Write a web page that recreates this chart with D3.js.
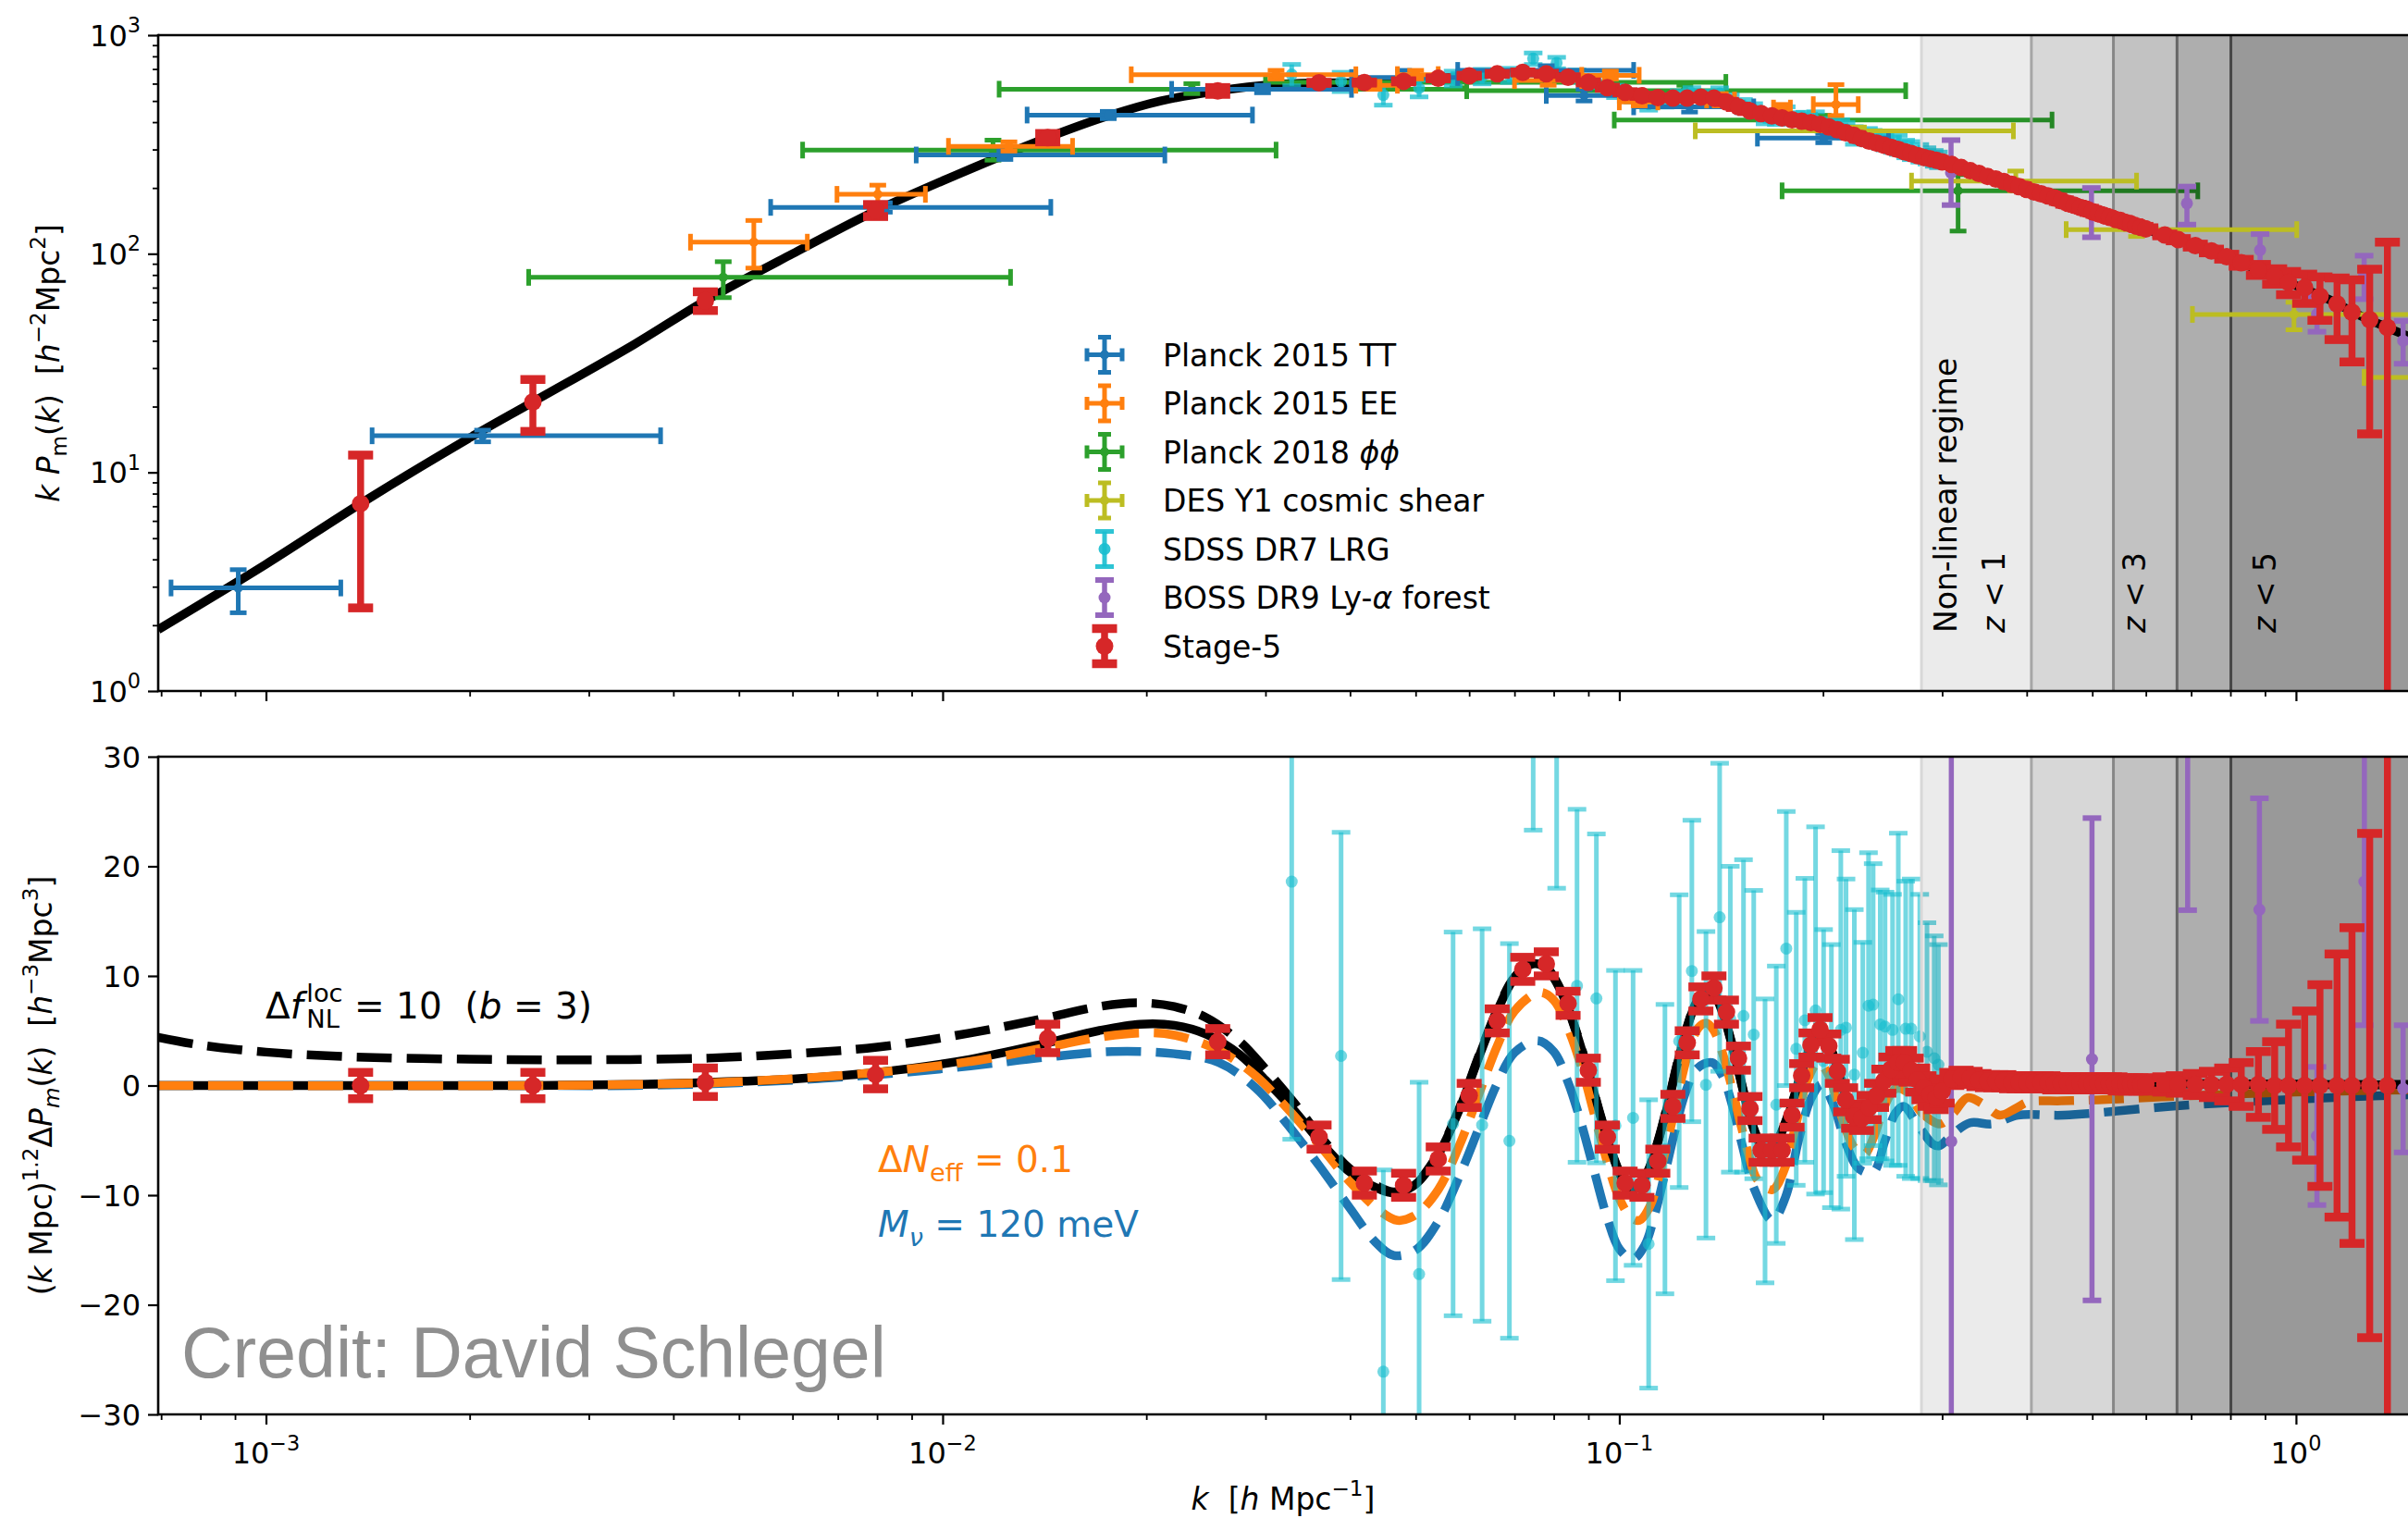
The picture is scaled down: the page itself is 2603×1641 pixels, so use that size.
<!DOCTYPE html>
<html>
<head>
<meta charset="utf-8">
<script src="https://cdn.jsdelivr.net/npm/d3@7"></script>
<style>
  html, body { margin: 0; padding: 0; background: #fff; }
  svg { display: block; font-family: 'DejaVu Sans', sans-serif; }
</style>
</head>
<body>
<svg id="fig" width="2603" height="1641"></svg>
<script>
// ---------------------------------------------------------------
// Data (k in h/Mpc)
// ---------------------------------------------------------------

// Linear matter power spectrum, k P(k)  [k, kP]
const pkCurve = [
  [0.000693, 1.91], [0.001, 3.8], [0.00138, 7.2], [0.002, 14.4], [0.00248, 21.0], [0.0035, 38.5],
  [0.00446, 61], [0.006, 100], [0.00796, 157], [0.0105, 230], [0.0143, 340], [0.0176, 428],
  [0.021, 500], [0.0255, 556], [0.031, 595], [0.036, 605], [0.042, 607], [0.048, 615], [0.054, 635],
  [0.060, 652], [0.066, 665], [0.072, 675], [0.078, 665], [0.084, 642], [0.090, 608], [0.096, 575],
  [0.102, 548], [0.108, 528], [0.114, 518], [0.120, 515], [0.126, 515], [0.132, 520], [0.138, 515],
  [0.144, 495], [0.150, 470], [0.156, 450], [0.162, 438], [0.168, 427], [0.174, 418], [0.180, 410],
  [0.190, 400], [0.200, 388], [0.215, 360], [0.234, 328], [0.254, 305], [0.283, 276], [0.308, 259],
  [0.357, 222], [0.405, 194], [0.460, 170], [0.522, 149], [0.593, 131], [0.673, 115], [0.763, 101],
  [0.867, 86], [0.984, 73], [1.116, 62], [1.23, 53], [1.364, 46], [1.464, 42]
];

// Planck 2015 TT  [k, kP, kLo, kHi, kPLo, kPHi]
const planckTT = [
  [0.00091, 2.96, 0.000724, 0.00129, 2.28, 3.59],
  [0.00209, 14.7, 0.001435, 0.00383, 13.8, 15.6],
  [0.0082, 163, 0.00557, 0.01445, 155, 171],
  [0.01236, 283, 0.00914, 0.0213, 270, 297],
  [0.01757, 431, 0.01333, 0.0287, 415, 448],
  [0.0297, 565, 0.0218, 0.0402, 545, 590],
  [0.0480, 640, 0.0402, 0.0577, 600, 690],
  [0.0780, 690, 0.0577, 0.1050, 655, 725],
  [0.0887, 530, 0.0780, 0.1000, 500, 565],
  [0.1270, 470, 0.1050, 0.1580, 445, 500],
  [0.2005, 338, 0.1600, 0.2500, 322, 355]
];

// Planck 2015 EE
const planckEE = [
  [0.00526, 113, 0.00424, 0.00631, 86, 142],
  [0.00802, 187, 0.00698, 0.00943, 170, 206],
  [0.01253, 310, 0.0102, 0.01556, 295, 325],
  [0.0311, 659, 0.0190, 0.0408, 630, 690],
  [0.0434, 590, 0.0408, 0.0470, 565, 615],
  [0.0500, 660, 0.0470, 0.0540, 630, 690],
  [0.0785, 620, 0.0700, 0.0880, 590, 650],
  [0.0970, 655, 0.0880, 0.1070, 630, 685],
  [0.1070, 495, 0.1000, 0.1140, 475, 515],
  [0.1410, 505, 0.1346, 0.1480, 475, 540],
  [0.1740, 464, 0.1690, 0.1790, 448, 482],
  [0.2090, 481, 0.1935, 0.2255, 429, 594]
];

// Planck 2018 lensing (phi phi)
const planckPP = [
  [0.00474, 78, 0.002445, 0.0126, 63, 92],
  [0.01187, 298, 0.00621, 0.0311, 268, 331],
  [0.02335, 566, 0.01212, 0.0595, 540, 600],
  [0.1250, 557, 0.0595, 0.265, 525, 590],
  [0.0577, 608, 0.030, 0.1437, 575, 645],
  [0.2000, 409, 0.0983, 0.436, 390, 430],
  [0.3167, 194, 0.174, 0.716, 127, 230]
];

// DES Y1 cosmic shear
const desY1 = [
  [0.2256, 365, 0.1295, 0.3823, 352, 380],
  [0.3854, 215, 0.2703, 0.5813, 194, 239],
  [0.5813, 129, 0.4575, 1.0026, 120, 140],
  [0.9932, 52.8, 0.703, 1.6, 44.9, 60],
  [1.60, 27.2, 1.261, 2.0, 24, 31]
];

// SDSS DR7 LRG, upper panel  [k, kP, err]
const sdssTop = [
  [0.0328, 660.6, 74], [0.0388, 614.2, 62.1], [0.0448, 532.8, 54.4], [0.0506, 572.4, 50.5],
  [0.0568, 635.1, 49.4], [0.0627, 648.0, 49.5], [0.0688, 656.3, 48.9], [0.0746, 781.5, 47.3],
  [0.0808, 747.0, 44.7], [0.0866, 651.6, 41.7], [0.0925, 615.3, 38.4], [0.0987, 553.8, 35.7],
  [0.1048, 527.6, 33.6], [0.1105, 486.3, 32.5], [0.1168, 500.8, 32.2], [0.1226, 524.8, 32.3],
  [0.128, 542.1, 33.0], [0.1343, 522.2, 33.2], [0.1407, 541.1, 33.0], [0.1459, 502.1, 32.6],
  [0.1526, 474.7, 33.0], [0.158, 455.7, 30.2], [0.1642, 422.5, 29.5], [0.1706, 419.0, 28.6],
  [0.1765, 442.1, 28.1], [0.1826, 414.5, 27.8], [0.188, 415.2, 28.7], [0.195, 409.1, 36.9],
  [0.2004, 389.9, 26.3], [0.2058, 377.9, 26.2], [0.2125, 375.0, 35.4], [0.2163, 368.4, 29.3],
  [0.2225, 349.1, 32.3], [0.229, 342.4, 21.5], [0.2335, 344.5, 29.7], [0.2372, 339.6, 27.2],
  [0.243, 329.8, 25.9], [0.247, 324.3, 25.8], [0.2534, 316.6, 25.8], [0.2584, 316.4, 31.6],
  [0.265, 302.7, 27.9], [0.270, 297.7, 28.2], [0.278, 289.2, 26.6], [0.2849, 281.3, 24.0],
  [0.292, 274.1, 22.7], [0.2962, 269.8, 22.2]
];

// SDSS DR7 LRG, lower panel  [k, residual, err]
const sdssBot = [
  [0.0328, 18.6, 23.5], [0.0388, 2.7, 20.4], [0.0448, -26.1, 18.4], [0.0506, -17.2, 17.5],
  [0.0568, -3.5, 17.5], [0.0627, -3.6, 17.9], [0.0688, -5.05, 18.0], [0.0746, 41.0, 17.7],
  [0.0808, 35.0, 17.0], [0.0866, 9.1, 16.1], [0.0925, 7.95, 15.0], [0.0987, -3.65, 14.15],
  [0.1048, -2.95, 13.45], [0.1105, -14.45, 13.15], [0.1168, -5.8, 13.2], [0.1226, 4.05, 13.35],
  [0.128, 10.45, 13.75], [0.1343, 0.07, 13.98], [0.1407, 15.35, 14.05], [0.1459, 6.05, 13.95],
  [0.1526, 6.35, 14.25], [0.158, 4.65, 13.15], [0.1642, -5.05, 12.95], [0.1706, -1.75, 12.65],
  [0.1765, 12.5, 12.5], [0.1826, 3.35, 12.45], [0.188, 5.95, 12.95], [0.195, 6.85, 16.75],
  [0.2004, 2.23, 12.0], [0.2058, 0.86, 12.0], [0.2125, 5.08, 16.35], [0.2163, 5.28, 13.56],
  [0.2225, 1.0, 15.05], [0.229, 2.99, 10.07], [0.2335, 7.28, 13.96], [0.2372, 7.38, 12.86],
  [0.243, 5.58, 12.26], [0.247, 5.38, 12.26], [0.2534, 5.08, 12.36], [0.2584, 7.87, 15.15],
  [0.265, 5.18, 13.46], [0.270, 5.18, 13.66], [0.278, 4.48, 12.96], [0.2849, 3.09, 11.76],
  [0.292, 2.49, 11.16], [0.2962, 1.9, 10.96]
];

// BOSS DR9 Ly-alpha forest, upper panel  [k, kP, kPLo, kPHi]
const bossTop = [
  [0.3092, 235, 167, 331], [0.4986, 155, 119, 200], [0.690, 170, 136, 203],
  [0.885, 104, 83, 123], [1.074, 53, 44, 64], [1.261, 80, 62, 98], [1.44, 40, 31.4, 49.3]
];
// BOSS DR9 Ly-alpha forest, lower panel  [k, residual, err]
const bossBot = [
  [0.3095, -5.1, 40], [0.4995, 2.4, 22], [0.6917, 38, 22], [0.883, 16.05, 10.15],
  [1.074, -4.6, 6.3], [1.262, 18.6, 13.1], [1.44, -0.3, 5.8]
];

// Stage-5 forecast  [k, kP, kPErr, residual, residualErr]
const stage5 = [
  [0.00138, 7.2, 4.8, 0.0, 1.2], [0.00248, 21, 5.6, 0.0, 1.2], [0.00446, 61, 6, 0.3, 1.3],
  [0.00796, 158, 10, 1.0, 1.3], [0.0143, 340, 15, 4.3, 1.3], [0.0255, 556, 20, 4.0, 1.2],
  [0.036, 605, 3.5, -4.7, 1.1], [0.042, 607, 3.5, -8.9, 1.1], [0.048, 615, 3.5, -9.1, 1.1],
  [0.054, 635, 3.5, -6.7, 1.1], [0.060, 652, 3.5, -0.9, 1.1], [0.066, 665, 3.5, 5.9, 1.1],
  [0.072, 675, 3.5, 10.6, 1.1], [0.078, 665, 3.5, 11.1, 1.1], [0.084, 642, 3.5, 7.5, 1.1],
  [0.090, 608, 3.5, 1.4, 1.1], [0.096, 575, 3.2, -4.7, 1.1], [0.102, 548, 3.2, -8.9, 1.1],
  [0.108, 528, 3.2, -9.1, 1.1], [0.114, 518, 3.2, -6.9, 1.1], [0.120, 515, 3.2, -1.9, 1.1],
  [0.126, 515, 3.2, 3.9, 1.1], [0.132, 520, 3.2, 7.9, 1.1], [0.138, 515, 3.2, 8.9, 1.1],
  [0.144, 495, 3.2, 6.7, 1.1], [0.150, 470, 3.2, 2.5, 1.1], [0.156, 450, 3.0, -2.1, 1.1],
  [0.162, 438, 3.0, -5.9, 1.1], [0.168, 427, 3.0, -5.9, 1.1], [0.174, 418, 3.0, -5.9, 1.1],
  [0.180, 410, 3.0, -2.7, 1.1], [0.186, 404, 3.0, 0.9, 1.1], [0.192, 398, 3.0, 3.7, 1.1],
  [0.198, 391, 3.0, 5.1, 1.1], [0.204, 380, 3.0, 3.6, 1.1], [0.210, 369, 3.0, 1.3, 1.1],
  [0.216, 358, 2.8, -1.3, 1.1], [0.222, 348, 2.8, -2.8, 1.1], [0.228, 337, 2.8, -3.0, 1.1],
  [0.234, 328, 2.8, -2.0, 1.1], [0.240, 321, 2.8, -0.9, 1.1], [0.246, 314, 2.8, 0.4, 1.1],
  [0.252, 307, 2.8, 1.5, 1.1], [0.258, 300, 2.8, 2.1, 1.1], [0.264, 293, 2.8, 2.1, 1.1],
  [0.270, 287, 2.8, 1.4, 1.1], [0.276, 281, 2.5, 0.5, 1.1], [0.282, 276, 2.5, -0.2, 1.1],
  [0.288, 272, 2.5, -0.8, 1.1], [0.294, 268, 2.5, -1.1, 1.1], [0.300, 263, 2.5, -0.5, 1.1],
  [0.31, 256, 1.5, 0.6, 0.6], [0.32, 248, 1.5, 0.8, 0.6], [0.33, 240, 1.5, 0.7, 0.6],
  [0.34, 233, 1.5, 0.5, 0.6], [0.35, 226, 1.5, 0.4, 0.6], [0.36, 220, 1.5, 0.4, 0.6],
  [0.37, 214, 1.5, 0.4, 0.6], [0.38, 208, 1.5, 0.3, 0.6], [0.39, 203, 1.5, 0.3, 0.6],
  [0.40, 197, 1.5, 0.3, 0.6], [0.41, 192, 1.5, 0.3, 0.6], [0.42, 188, 1.5, 0.3, 0.6],
  [0.43, 184, 1.5, 0.3, 0.6], [0.44, 180, 1.5, 0.2, 0.6], [0.45, 175, 1.5, 0.2, 0.6],
  [0.46, 170, 1.5, 0.2, 0.6], [0.47, 167, 1.5, 0.2, 0.6], [0.48, 163, 1.5, 0.2, 0.6],
  [0.49, 160, 1.5, 0.2, 0.6], [0.50, 156, 1.5, 0.2, 0.6], [0.51, 153, 1.5, 0.2, 0.6],
  [0.52, 150, 1.5, 0.2, 0.6], [0.53, 147, 1.5, 0.2, 0.6], [0.54, 144, 1.5, 0.2, 0.6],
  [0.55, 142, 1.5, 0.1, 0.6], [0.56, 139, 1.5, 0.1, 0.6], [0.57, 137, 1.5, 0.1, 0.6],
  [0.58, 134, 1.5, 0.1, 0.6], [0.59, 132, 1.5, 0.1, 0.6], [0.60, 130, 1.5, 0.1, 0.6],
  [0.64, 122, 1.2, 0.1, 0.7], [0.67, 116, 1.4, 0.1, 0.8], [0.71, 109, 1.7, 0.1, 1.0],
  [0.75, 103, 2.0, 0.1, 1.2], [0.79, 97, 2.5, 0.1, 1.5], [0.83, 91, 3.3, 0.1, 2.0],
  [0.88, 84.5, 4.9, 0.1, 3.0], [0.93, 79, 6.4, 0.0, 4.0], [0.975, 74, 9.0, 0.0, 5.6],
  [1.03, 70, 10.7, 0.0, 6.8], [1.085, 64, 14.4, 0.0, 9.2], [1.15, 59, 18.5, 0.0, 12.0],
  [1.21, 54, 22, 0.0, 14.4], [1.285, 50, 35, 0.0, 23], [1.365, 46, 67, 0.0, 45]
];

// Residual model curves (lower panel)  [k, value]
const fiducialBAO = [
  [0.000693, 0.0], [0.0015, 0.0], [0.0025, 0.0], [0.0035, 0.1], [0.0045, 0.3], [0.006, 0.6],
  [0.008, 1.2], [0.011, 2.4], [0.0143, 3.9], [0.017, 5.0], [0.0196, 5.6], [0.022, 5.5],
  [0.0245, 4.7], [0.0275, 2.8], [0.030, 0.5], [0.033, -2.2], [0.036, -5.0], [0.040, -7.9],
  [0.044, -9.4], [0.0465, -9.8], [0.050, -9.0], [0.054, -6.3], [0.058, -2.2], [0.062, 2.6],
  [0.066, 6.8], [0.070, 9.8], [0.0745, 11.1], [0.078, 10.7], [0.082, 8.6], [0.086, 5.2],
  [0.090, 1.2], [0.094, -3.0], [0.098, -6.6], [0.102, -8.9], [0.106, -9.4], [0.110, -8.0],
  [0.114, -5.2], [0.118, -1.7], [0.122, 2.1], [0.126, 5.3], [0.130, 7.6], [0.134, 8.6],
  [0.138, 8.3], [0.142, 6.7], [0.146, 4.2], [0.150, 1.3], [0.154, -1.6], [0.158, -4.0],
  [0.162, -5.5], [0.166, -6.0], [0.170, -5.5], [0.174, -4.2], [0.180, -1.7], [0.186, 1.2],
  [0.192, 3.6], [0.198, 4.6], [0.204, 3.8], [0.210, 1.6], [0.216, -1.0], [0.222, -2.8],
  [0.228, -3.3], [0.234, -2.6], [0.240, -1.1], [0.246, 0.5], [0.252, 1.6], [0.260, 2.1],
  [0.268, 1.6], [0.278, 0.2], [0.290, -0.9], [0.300, -0.4], [0.310, 0.4], [0.330, 0.6],
  [0.360, 0.4], [0.40, 0.3], [0.50, 0.25], [0.70, 0.15], [1.0, 0.1], [1.464, 0.05]
];

const fnlModel = [
  [0.000693, 4.4], [0.0008, 3.7], [0.001, 3.05], [0.0013, 2.65], [0.002, 2.4], [0.003, 2.35],
  [0.0045, 2.5], [0.006, 2.9], [0.008, 3.5], [0.011, 4.8], [0.0143, 6.2], [0.017, 7.2],
  [0.0194, 7.55], [0.022, 7.2], [0.0245, 6.2], [0.0275, 4.0], [0.030, 1.5], [0.033, -1.5],
  [0.036, -4.5], [0.040, -7.6], [0.044, -9.2], [0.0465, -9.7], [0.050, -8.9], [0.054, -6.2],
  [0.058, -2.1], [0.062, 2.7], [0.066, 6.9], [0.070, 9.9], [0.0745, 11.2], [0.078, 10.8],
  [0.082, 8.7], [0.086, 5.3], [0.090, 1.3], [0.094, -2.9], [0.098, -6.5], [0.102, -8.8],
  [0.106, -9.3], [0.110, -7.9], [0.114, -5.1], [0.118, -1.6], [0.122, 2.2], [0.126, 5.4],
  [0.130, 7.7], [0.134, 8.7], [0.138, 8.4], [0.142, 6.8], [0.146, 4.3], [0.150, 1.4],
  [0.154, -1.5], [0.158, -3.9], [0.162, -5.4], [0.166, -5.9], [0.170, -5.4], [0.174, -4.1],
  [0.180, -1.6], [0.186, 1.3], [0.192, 3.7], [0.198, 4.7], [0.204, 3.9], [0.210, 1.7],
  [0.216, -0.9], [0.222, -2.7], [0.228, -3.2], [0.234, -2.5], [0.240, -1.0], [0.246, 0.6],
  [0.252, 1.7], [0.260, 2.2], [0.268, 1.7], [0.278, 0.3], [0.290, -0.8], [0.300, -0.3],
  [0.310, 0.5], [0.330, 0.7], [0.360, 0.5], [0.40, 0.4], [0.50, 0.3], [0.70, 0.2],
  [1.0, 0.1], [1.464, 0.1]
];

const neffModel = [
  [0.000693, 0.0], [0.0025, 0.0], [0.0035, 0.1], [0.005, 0.35], [0.008, 1.2], [0.011, 2.2],
  [0.0143, 3.5], [0.017, 4.4], [0.0196, 4.8], [0.022, 4.6], [0.0256, 3.2], [0.029, 0.9],
  [0.032, -1.8], [0.036, -5.4], [0.040, -8.8], [0.044, -11.3], [0.047, -12.3], [0.050, -11.8],
  [0.054, -9.5], [0.058, -5.5], [0.062, -0.8], [0.066, 3.6], [0.070, 6.8], [0.0762, 8.5],
  [0.080, 7.8], [0.084, 5.2], [0.088, 1.6], [0.092, -2.8], [0.096, -7.0], [0.100, -10.3],
  [0.104, -12.0], [0.1071, -12.3], [0.111, -11.0], [0.115, -7.8], [0.119, -3.9], [0.123, 0.1],
  [0.127, 3.4], [0.131, 5.3], [0.1345, 5.7], [0.138, 5.0], [0.142, 3.0], [0.146, 0.3],
  [0.150, -2.7], [0.155, -6.1], [0.160, -8.6], [0.1683, -9.5], [0.175, -7.8], [0.182, -3.8],
  [0.190, 0.6], [0.197, 2.1], [0.204, 0.9], [0.212, -2.4], [0.222, -5.6], [0.230, -6.3],
  [0.238, -4.6], [0.246, -2.0], [0.256, -0.3], [0.265, -0.5], [0.280, -2.5], [0.298, -3.5],
  [0.312, -2.5], [0.327, -1.1], [0.345, -1.7], [0.365, -2.7], [0.385, -2.1], [0.402, -1.5],
  [0.45, -1.4], [0.51, -1.3], [0.72, -0.9], [1.0, -0.6], [1.464, -0.4]
];

const mnuModel = [
  [0.000693, 0.0], [0.0025, 0.0], [0.0035, 0.0], [0.005, 0.25], [0.008, 1.0], [0.011, 1.8],
  [0.0143, 2.6], [0.0178, 3.1], [0.022, 2.9], [0.0256, 2.1], [0.029, -0.2], [0.032, -3.2],
  [0.036, -7.3], [0.040, -11.2], [0.0435, -14.2], [0.0464, -15.5], [0.050, -15.0], [0.054, -12.4],
  [0.058, -8.3], [0.062, -3.9], [0.066, 0.2], [0.070, 3.0], [0.0757, 4.1], [0.080, 3.1],
  [0.084, 0.3], [0.088, -3.6], [0.092, -8.0], [0.096, -12.1], [0.100, -14.9], [0.1046, -15.85],
  [0.109, -14.6], [0.113, -11.6], [0.117, -7.8], [0.121, -4.0], [0.125, -0.8], [0.130, 1.5],
  [0.137, 2.1], [0.142, 0.9], [0.147, -1.9], [0.152, -5.5], [0.158, -9.3], [0.1683, -12.3],
  [0.176, -10.2], [0.184, -5.0], [0.192, -1.2], [0.199, 0.1], [0.207, -1.7], [0.216, -5.2],
  [0.226, -7.6], [0.2372, -7.9], [0.247, -5.0], [0.256, -2.5], [0.263, -1.9], [0.275, -3.4],
  [0.290, -5.3], [0.297, -5.5], [0.310, -4.5], [0.330, -3.4], [0.356, -3.5], [0.388, -2.7],
  [0.454, -2.7], [0.652, -1.9], [0.83, -1.5], [1.365, -0.9], [1.464, -0.85]
];

// Non-linear regime boundaries (k where each redshift cut becomes non-linear)
const shadeEdges = [0.2796, 0.4064, 0.5373, 0.6671, 0.8013];
const shadeLabels = [
  { k: 0.2796, dx: 26, segs: [{ t: 'Non-linear regime' }] },
  { k: 0.2796, dx: 78, segs: [{ t: 'z', it: true }, { t: ' < 1' }] },
  { k: 0.5373, dx: 22, segs: [{ t: 'z', it: true }, { t: ' < 3' }] },
  { k: 0.8013, dx: 36, segs: [{ t: 'z', it: true }, { t: ' < 5' }] }
];

const xMajor = [1e-3, 1e-2, 1e-1, 1];
const xMajorLabels = ['−3', '−2', '−1', '0'];
const yTopMajor = [1, 10, 100, 1000];
const yTopLabels = ['0', '1', '2', '3'];
const yBotMajor = [-30, -20, -10, 0, 10, 20, 30];

// ---------------------------------------------------------------
// Layout and scales
// ---------------------------------------------------------------
const W = 2603, H = 1641;
const L = 171, R = 2603;
const TOP = { t: 38, b: 747 }, BOT = { t: 818, b: 1529 };

const C = {
  blue: '#1f77b4', orange: '#ff7f0e', green: '#2ca02c', red: '#d62728',
  purple: '#9467bd', olive: '#bcbd22', cyan: '#17becf'
};

const svg = d3.select('#fig');
const x = d3.scaleLog().domain([6.93e-4, 1.464]).range([L, R]);
const yT = d3.scaleLog().domain([1, 1000]).range([TOP.b, TOP.t]);
const yB = d3.scaleLinear().domain([-30, 30]).range([BOT.b, BOT.t]);
const yTs = v => yT(Math.max(v, 1e-3));

const defs = svg.append('defs');
[['clipT', TOP], ['clipB', BOT]].forEach(([id, p]) => {
  defs.append('clipPath').attr('id', id).append('rect')
    .attr('x', L).attr('y', p.t).attr('width', R - L).attr('height', p.b - p.t);
});

// ---------------------------------------------------------------
// Helpers
// ---------------------------------------------------------------
// Mixed-style text (italic, super/subscripts, stacked scripts)
function rich(parent, segs, o) {
  const fs = o.size;
  const g = parent.append('g').attr('fill', o.fill || '#000');
  if (o.family) g.style('font-family', o.family);
  const inner = g.append('g');
  let cx = 0, lastX = 0;
  segs.forEach(s => {
    const small = s.sup || s.sub;
    const size = small ? fs * 0.7 : fs;
    const dy = s.sup ? -fs * 0.45 : s.sub ? fs * 0.25 : 0;
    const px = (s.stack ? lastX : cx) + (s.dx || 0) * fs;
    const t = inner.append('text')
      .attr('x', px).attr('y', dy + (o.shift || 0))
      .attr('font-size', size)
      .attr('font-style', s.it ? 'italic' : 'normal')
      .attr('xml:space', 'preserve')
      .style('white-space', 'pre')
      .text(s.t);
    const w = t.node().getComputedTextLength();
    if (s.stack) cx = Math.max(cx, px + w);
    else { lastX = px; cx = px + w; }
  });
  const off = o.anchor === 'middle' ? -cx / 2 : o.anchor === 'end' ? -cx : 0;
  inner.attr('transform', `translate(${off},0)`);
  g.attr('transform', `translate(${o.x},${o.y})` + (o.rot ? ` rotate(${o.rot})` : ''));
  return g;
}

// Error bars: bars first, then caps, then markers (per data set)
function errorbars(g, pts, st) {
  const op = st.opacity == null ? 1 : st.opacity;
  const layer = g.append('g');
  const bars = [], caps = [];
  pts.forEach(p => {
    if (p.x0 != null) {
      bars.push([p.x0, p.y, p.x1, p.y]);
      caps.push([p.x0, p.y - st.cap / 2, p.x0, p.y + st.cap / 2]);
      caps.push([p.x1, p.y - st.cap / 2, p.x1, p.y + st.cap / 2]);
    }
    if (p.y0 != null) {
      bars.push([p.x, p.y0, p.x, p.y1]);
      caps.push([p.x - st.cap / 2, p.y0, p.x + st.cap / 2, p.y0]);
      caps.push([p.x - st.cap / 2, p.y1, p.x + st.cap / 2, p.y1]);
    }
  });
  const seg = (data, w) => layer.append('g').selectAll('line').data(data).join('line')
    .attr('x1', d => d[0]).attr('y1', d => d[1]).attr('x2', d => d[2]).attr('y2', d => d[3])
    .attr('stroke', st.color).attr('stroke-width', w).attr('stroke-opacity', op);
  seg(bars, st.lw);
  seg(caps, st.capw);
  if (st.r) {
    layer.append('g').selectAll('circle').data(pts).join('circle')
      .attr('cx', d => d.x).attr('cy', d => d.y).attr('r', st.r)
      .attr('fill', st.color).attr('fill-opacity', op);
  }
}

const crossPts = rows => rows.map(r => ({
  x: x(r[0]), y: yTs(r[1]), x0: x(r[2]), x1: x(r[3]), y0: yTs(r[4]), y1: yTs(r[5])
}));

const styles = {
  planck: { lw: 5, cap: 18, capw: 5, r: 5 },
  sdss: { color: C.cyan, lw: 5, cap: 20, capw: 5, r: 6.5, opacity: 0.6 },
  boss: { color: C.purple, lw: 5.5, cap: 20, capw: 6, r: 6.5 },
  s5: { color: C.red, lw: 7.5, cap: 27, capw: 9.5, r: 9.5 }
};

function shading(g, p) {
  const alphas = [0.078, 0.157, 0.239, 0.318, 0.40];
  const edges = ['#d8d8d8', '#a6a6a6', '#878787', '#666666', '#474747'];
  const bounds = shadeEdges.concat([1.464]);
  shadeEdges.forEach((k, i) => {
    g.append('rect').attr('x', x(k)).attr('y', p.t)
      .attr('width', x(bounds[i + 1]) - x(k)).attr('height', p.b - p.t)
      .attr('fill', '#000').attr('fill-opacity', alphas[i]);
  });
  shadeEdges.forEach((k, i) => {
    g.append('line').attr('x1', x(k)).attr('x2', x(k)).attr('y1', p.t).attr('y2', p.b)
      .attr('stroke', edges[i]).attr('stroke-width', 3);
  });
}

function minorTicks() {
  const out = [];
  [-4, -3, -2, -1, 0].forEach(e => [2, 3, 4, 5, 6, 7, 8, 9].forEach(m => {
    const v = m * Math.pow(10, e);
    if (v >= x.domain()[0] && v <= x.domain()[1]) out.push(v);
  }));
  return out;
}

function styleAxis(a, w) {
  a.select('.domain').remove();
  a.selectAll('line').attr('stroke', '#000').attr('stroke-width', w);
  a.selectAll('text').remove();
}

function frame(p) {
  const f = svg.append('g').attr('stroke', '#000').attr('stroke-width', 2.6);
  f.append('line').attr('x1', L).attr('x2', L).attr('y1', p.t - 1.3).attr('y2', p.b + 1.3);
  f.append('line').attr('x1', L).attr('x2', R).attr('y1', p.t).attr('y2', p.t);
  f.append('line').attr('x1', L).attr('x2', R).attr('y1', p.b).attr('y2', p.b);
  const xa = svg.append('g').attr('transform', `translate(0,${p.b})`)
    .call(d3.axisBottom(x).tickValues(xMajor).tickSize(11).tickFormat(() => ''));
  styleAxis(xa, 2.2);
  const xm = svg.append('g').attr('transform', `translate(0,${p.b})`)
    .call(d3.axisBottom(x).tickValues(minorTicks()).tickSize(6).tickFormat(() => ''));
  styleAxis(xm, 1.8);
}

const line = (sx, sy) => d3.line().x(d => sx(d[0])).y(d => sy(d[1])).curve(d3.curveCatmullRom.alpha(0.5));

// ---------------------------------------------------------------
// Upper panel: k P(k)
// ---------------------------------------------------------------
const gT = svg.append('g').attr('clip-path', 'url(#clipT)');

gT.append('path').datum(pkCurve).attr('d', line(x, yT))
  .attr('fill', 'none').attr('stroke', '#000').attr('stroke-width', 9.5);

errorbars(gT, crossPts(planckPP), { ...styles.planck, color: C.green });
errorbars(gT, sdssTop.map(r => ({ x: x(r[0]), y: yTs(r[1]), y0: yTs(r[1] - r[2]), y1: yTs(r[1] + r[2]) })),
  { ...styles.sdss, opacity: 0.75 });
errorbars(gT, crossPts(planckTT), { ...styles.planck, color: C.blue });
errorbars(gT, crossPts(planckEE), { ...styles.planck, color: C.orange });

shading(gT, TOP);

errorbars(gT, crossPts(desY1), { ...styles.planck, color: C.olive });
errorbars(gT, bossTop.map(r => ({ x: x(r[0]), y: yTs(r[1]), y0: yTs(r[2]), y1: yTs(r[3]) })), styles.boss);
errorbars(gT, stage5.map(r => ({ x: x(r[0]), y: yTs(r[1]), y0: yTs(r[1] - r[2]), y1: yTs(r[1] + r[2]) })), styles.s5);

// Redshift-cut labels
shadeLabels.forEach(l => {
  rich(svg, l.segs, { x: x(l.k) + l.dx + 12, y: 684, rot: -90, size: 33, anchor: 'start' });
});

frame(TOP);

// y ticks (log, with minor ticks)
{
  const ya = svg.append('g').attr('transform', `translate(${L},0)`)
    .call(d3.axisLeft(yT).tickValues(yTopMajor).tickSize(11).tickFormat(() => ''));
  styleAxis(ya, 2.2);
  const mins = [];
  [0, 1, 2].forEach(e => [2, 3, 4, 5, 6, 7, 8, 9].forEach(m => mins.push(m * Math.pow(10, e))));
  const ym = svg.append('g').attr('transform', `translate(${L},0)`)
    .call(d3.axisLeft(yT).tickValues(mins).tickSize(6).tickFormat(() => ''));
  styleAxis(ym, 1.8);
  yTopMajor.forEach((v, i) => {
    rich(svg, [{ t: '10' }, { t: yTopLabels[i], sup: true }],
      { x: L - 19, y: yT(v), size: 32, anchor: 'end', shift: 11.5 });
  });
}

rich(svg, [{ t: 'k', it: true }, { t: ' ' }, { t: 'P', it: true }, { t: 'm', sub: true },
  { t: '(' }, { t: 'k', it: true }, { t: ')  [' }, { t: 'h', it: true }, { t: '−2', sup: true },
  { t: 'Mpc' }, { t: '2', sup: true }, { t: ']' }],
  { x: 64, y: (TOP.t + TOP.b) / 2, rot: -90, size: 33, anchor: 'middle' });

// Legend
{
  const lx = 1194, tx = 1257, y0 = 383.5, dy = 52.5;
  const entries = [
    { type: 'cross', color: C.blue, segs: [{ t: 'Planck 2015 TT' }] },
    { type: 'cross', color: C.orange, segs: [{ t: 'Planck 2015 EE' }] },
    { type: 'cross', color: C.green, segs: [{ t: 'Planck 2018 ' }, { t: 'ϕϕ', it: true }] },
    { type: 'cross', color: C.olive, segs: [{ t: 'DES Y1 cosmic shear' }] },
    { type: 'vert', st: { ...styles.sdss, opacity: 0.9 }, segs: [{ t: 'SDSS DR7 LRG' }] },
    { type: 'vert', st: styles.boss, segs: [{ t: 'BOSS DR9 Ly-' }, { t: 'α', it: true }, { t: ' forest' }] },
    { type: 'vert', st: styles.s5, segs: [{ t: 'Stage-5' }] }
  ];
  const lg = svg.append('g');
  entries.forEach((e, i) => {
    const cy = y0 + i * dy;
    if (e.type === 'cross') {
      errorbars(lg, [{ x: lx, y: cy, x0: lx - 19, x1: lx + 19, y0: cy - 19, y1: cy + 19 }],
        { ...styles.planck, cap: 14, color: e.color });
    } else {
      errorbars(lg, [{ x: lx, y: cy, y0: cy - 19, y1: cy + 19 }], e.st);
    }
    rich(lg, e.segs, { x: tx, y: cy, size: 33, shift: 12 });
  });
}

// ---------------------------------------------------------------
// Lower panel: scaled residuals
// ---------------------------------------------------------------
const gB = svg.append('g').attr('clip-path', 'url(#clipB)');
const dash = '38,16';
const lwModel = 9.5;

gB.append('path').datum(mnuModel).attr('d', line(x, yB))
  .attr('fill', 'none').attr('stroke', C.blue).attr('stroke-width', lwModel).attr('stroke-dasharray', dash);
gB.append('path').datum(fiducialBAO).attr('d', line(x, yB))
  .attr('fill', 'none').attr('stroke', '#000').attr('stroke-width', lwModel);
gB.append('path').datum(neffModel).attr('d', line(x, yB))
  .attr('fill', 'none').attr('stroke', C.orange).attr('stroke-width', lwModel).attr('stroke-dasharray', dash);
gB.append('path').datum(fnlModel).attr('d', line(x, yB))
  .attr('fill', 'none').attr('stroke', '#000').attr('stroke-width', lwModel).attr('stroke-dasharray', dash);

errorbars(gB, sdssBot.map(r => ({ x: x(r[0]), y: yB(r[1]), y0: yB(r[1] - r[2]), y1: yB(r[1] + r[2]) })), styles.sdss);

shading(gB, BOT);

errorbars(gB, bossBot.map(r => ({ x: x(r[0]), y: yB(r[1]), y0: yB(r[1] - r[2]), y1: yB(r[1] + r[2]) })), styles.boss);
errorbars(gB, stage5.map(r => ({ x: x(r[0]), y: yB(r[3]), y0: yB(r[3] - r[4]), y1: yB(r[3] + r[4]) })), styles.s5);

frame(BOT);
{
  const ya = svg.append('g').attr('transform', `translate(${L},0)`)
    .call(d3.axisLeft(yB).tickValues(yBotMajor).tickSize(11).tickFormat(() => ''));
  styleAxis(ya, 2.2);
  yBotMajor.forEach(v => {
    rich(svg, [{ t: v < 0 ? '−' + Math.abs(v) : String(v) }],
      { x: L - 19, y: yB(v), size: 32, anchor: 'end', shift: 11.5 });
  });
  xMajor.forEach((v, i) => {
    rich(svg, [{ t: '10' }, { t: xMajorLabels[i], sup: true }],
      { x: x(v), y: 1582, size: 32, anchor: 'middle' });
  });
}

rich(svg, [{ t: '(' }, { t: 'k', it: true }, { t: ' Mpc)' }, { t: '1.2', sup: true }, { t: 'Δ' },
  { t: 'P', it: true }, { t: 'm', it: true, sub: true }, { t: '(' }, { t: 'k', it: true },
  { t: ')  [' }, { t: 'h', it: true }, { t: '−3', sup: true }, { t: 'Mpc' }, { t: '3', sup: true }, { t: ']' }],
  { x: 56, y: (BOT.t + BOT.b) / 2, rot: -90, size: 33, anchor: 'middle' });

rich(svg, [{ t: 'k', it: true }, { t: '  [' }, { t: 'h', it: true }, { t: ' Mpc' }, { t: '−1', sup: true }, { t: ']' }],
  { x: (L + R) / 2, y: 1632, size: 33, anchor: 'middle' });

// Model annotations
rich(svg, [{ t: 'Δ' }, { t: 'f', it: true }, { t: 'loc', sup: true, dx: 0.1 }, { t: 'NL', sub: true, stack: true },
  { t: ' = 10  (' }, { t: 'b', it: true }, { t: ' = 3)' }],
  { x: 287, y: 1101, size: 39 });
rich(svg, [{ t: 'Δ' }, { t: 'N', it: true }, { t: 'eff', sub: true }, { t: ' = 0.1' }],
  { x: 949, y: 1267, size: 39, fill: C.orange });
rich(svg, [{ t: 'M', it: true }, { t: 'ν', it: true, sub: true }, { t: ' = 120 meV' }],
  { x: 949, y: 1337, size: 39, fill: C.blue });

svg.append('text').attr('x', 196).attr('y', 1489)
  .style('font-family', "'Liberation Sans', Arial, sans-serif")
  .attr('font-size', 77).attr('fill', '#8f8f8f')
  .text('Credit: David Schlegel');
</script>
</body>
</html>
